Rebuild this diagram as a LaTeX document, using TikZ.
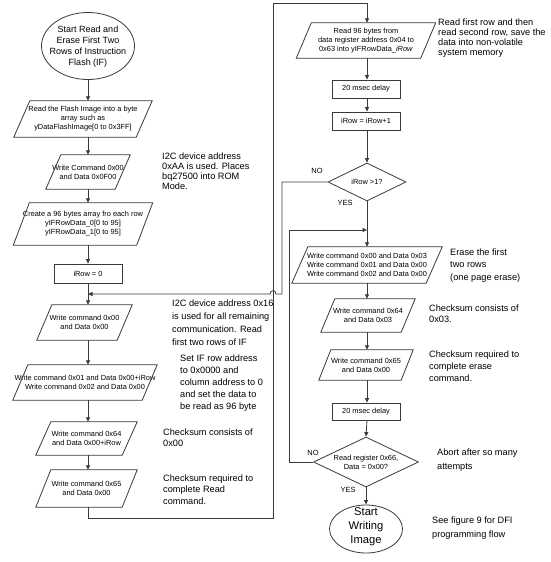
\documentclass[tikz,border=0pt]{standalone}
\usepackage{fontspec}
\setmainfont{Liberation Sans}
\usetikzlibrary{shapes.geometric,arrows.meta,calc}
\definecolor{linec}{HTML}{3A3A3A}
\newcommand\flowpara[7]{%
  \node[boxtext, minimum width=#4, minimum height=#5] (#1) at (#2,#3) {#7};
  \draw[line] ($(#1.north west)+(#6,0)$) -- (#1.north east) -- ($(#1.south east)-(#6,0)$) -- (#1.south west) -- cycle;
}
\begin{document}
\begin{tikzpicture}[x=1pt,y=-1pt,
  line/.style={draw=linec, line width=0.8pt},
  arrow/.style={line, -{Triangle[length=4.5pt,width=4pt]}},
  boxtext/.style={font=\fontsize{7.4}{9}\selectfont, align=center, inner sep=0pt},
  rectbox/.style={boxtext, line, rectangle, minimum width=68, minimum height=18},
  ellbox/.style={line, ellipse, inner sep=0pt},
  decision/.style={line, diamond, inner sep=0pt},
  note/.style={font=\fontsize{9.2}{10.5}\selectfont, align=left, anchor=north west, inner sep=0pt},
  lab/.style={font=\fontsize{7.5}{9}\selectfont, inner sep=0pt}
]
\useasboundingbox (0,0) rectangle (550,562);
\fill[white] (0,0) rectangle (550,562);
\coordinate (colL) at (88,0);
\coordinate (colR) at (367,0);

% ---------- left column ----------
\node[ellbox, minimum width=93, minimum height=67] (start) at (88,46) {};
\node[font=\fontsize{9}{10.8}\selectfont, align=center, inner sep=0pt] (starttxt) at (88,46.5)
  {Start Read and\\Erase First Two\\Rows of Instruction\\Flash (IF)};

\flowpara{p1}{83}{119}{138}{36}{16}{Read the Flash Image into a byte\\array such as\\yDataFlashImage[0 to 0x3FF]}
\flowpara{p2}{88}{172}{84}{34}{15}{Write Command 0x00\\and Data 0x0F00}
\flowpara{p3}{83}{224}{139}{42}{16}{Create a 96 bytes array fro  each  row\\yIFRowData\_0[0 to 95]\\yIFRowData\_1[0 to 95]}
\node[rectbox, minimum height=19] (r1) at (88,273.5) {iRow = 0};
\coordinate (m1) at (88,294);
\flowpara{p4}{84.5}{322.5}{95}{35}{15}{Write command 0x00\\and Data 0x00}
\flowpara{p5}{85}{382.5}{144}{35}{15}{Write command 0x01 and Data 0x00+iRow\\Write command 0x02 and Data 0x00}
\flowpara{p6}{86.5}{438.5}{101}{33}{15}{Write command 0x64\\and Data 0x00+iRow}
\flowpara{p7}{86.5}{488.5}{101}{37}{15}{Write command 0x65\\and Data 0x00}

\draw[arrow] (colL |- start.south) -- (colL |- p1.north);
\draw[arrow] (colL |- p1.south) -- (colL |- p2.north);
\draw[arrow] (colL |- p2.south) -- (colL |- p3.north);
\draw[arrow] (colL |- p3.south) -- (colL |- r1.north);
\draw[arrow] (colL |- r1.south) -- (colL |- p4.north);
\draw[arrow] (colL |- p4.south) -- (colL |- p5.north);
\draw[arrow] (colL |- p5.south) -- (colL |- p6.north);
\draw[arrow] (colL |- p6.south) -- (colL |- p7.north);

% ---------- right column ----------
\flowpara{rp1}{366}{40.5}{139}{35}{15}{Read 96 bytes from\\data register address 0x04 to\\0x63 into yIFRowData\_\textit{iRow}}
\node[rectbox] (rr1) at (366,89) {20 msec delay};
\node[rectbox] (rr2) at (366,121) {iRow = iRow+1};
\node[decision, minimum width=78, minimum height=38] (d1) at (367,182) {};
\node[boxtext] (d1txt) at (d1) {iRow >1?};
\coordinate (m2) at (367,230);
\flowpara{rp2}{367}{265}{150}{36}{16}{Write command 0x00 and Data 0x03\\Write command 0x01 and Data 0x00\\Write command 0x02 and Data 0x00}
\flowpara{rp3}{368}{315.5}{94}{33}{14}{Write command 0x64\\and Data 0x03}
\flowpara{rp4}{366}{365}{94}{30}{12}{Write command 0x65\\and Data 0x00}
\node[rectbox, minimum height=17] (rr3) at (366,411.5) {20 msec delay};
\node[decision, minimum width=105, minimum height=50] (d2) at (366,462) {};
\node[boxtext] (d2txt) at (d2) {Read register 0x66,\\Data = 0x00?};
\node[ellbox, minimum width=73, minimum height=48] (finish) at (366,529) {};
\node[font=\fontsize{11.2}{14}\selectfont, align=center, inner sep=0pt] (finishtxt) at (366,527)
  {Start\\Writing\\Image};

\draw[arrow] (colR |- rp1.south) -- (colR |- rr1.north);
\draw[arrow] (colR |- rr1.south) -- (colR |- rr2.north);
\draw[arrow] (colR |- rr2.south) -- (d1.north);
\draw[arrow] (d1.south) -- (colR |- rp2.north);
\draw[arrow] (colR |- rp2.south) -- (colR |- rp3.north);
\draw[arrow] (colR |- rp3.south) -- (colR |- rp4.north);
\draw[arrow] (colR |- rp4.south) -- (colR |- rr3.north);
\draw[arrow] (colR |- rr3.south) -- (d2.north);
\draw[arrow] (d2.south) -- (finish.north);

% ---------- loops ----------
\coordinate (busB) at (273,518);
\coordinate (busT) at (273,3);
\draw[arrow] (colL |- p7.south) |- (busB) -- (busT) -| (colR |- rp1.north);
\coordinate (no1) at (282,294);
\draw[arrow] (d1.west) -| (no1) -- (276,294) .. controls (276,289.5) and (270,289.5) .. (270,294) -- (m1);
\coordinate (no2) at (289,230);
\draw[arrow] (d2.west) -| (no2) -- (m2);

\node[lab] (no1lab) at (317,171) {NO};
\node[lab] (yes1lab) at (345,203) {YES};
\node[lab] (no2lab) at (313,453) {NO};
\node[lab] (yes2lab) at (348,490) {YES};

% ---------- notes ----------
\node[note, font=\fontsize{9.2}{10}\selectfont] (a1) at (438,19) {Read first row and then\\read second row, save the\\data into non-volatile\\system memory};
\node[note, font=\fontsize{9.2}{10}\selectfont] (a2) at (162,152.5) {I2C device address\\0xAA is used. Places\\bq27500 into ROM\\Mode.};
\node[note, font=\fontsize{9.2}{13}\selectfont] (a3) at (172,299.5) {I2C device address 0x16\\is used for all remaining\\communication. Read\\first  two  rows  of  IF};
\node[note, font=\fontsize{9.2}{12}\selectfont] (a4) at (180,354.5) {Set  IF  row  address\\to 0x0000 and\\column address to 0\\and  set  the  data  to\\be  read  as  96  byte};
\node[note, font=\fontsize{9.2}{11.5}\selectfont] (a5) at (163,428.5) {Checksum consists of\\0x00};
\node[note, font=\fontsize{9.2}{11.5}\selectfont] (a6) at (163,474.5) {Checksum required to\\complete  Read\\command.};
\node[note, font=\fontsize{9.2}{12.5}\selectfont] (a7) at (450,248.5) {Erase  the  first\\two  rows\\(one  page  erase)};
\node[note, font=\fontsize{9.2}{11.5}\selectfont] (a8) at (429,304.5) {Checksum consists of\\0x03.};
\node[note, font=\fontsize{9.2}{12}\selectfont] (a9) at (429,350.5) {Checksum required to\\complete erase\\command.};
\node[note, font=\fontsize{9.2}{14}\selectfont] (a10) at (437,448.5) {Abort  after  so  many\\attempts};
\node[note, font=\fontsize{9.2}{14.5}\selectfont] (a11) at (432,516.5) {See  figure 9  for  DFI\\programming  flow};
\end{tikzpicture}
\end{document}
